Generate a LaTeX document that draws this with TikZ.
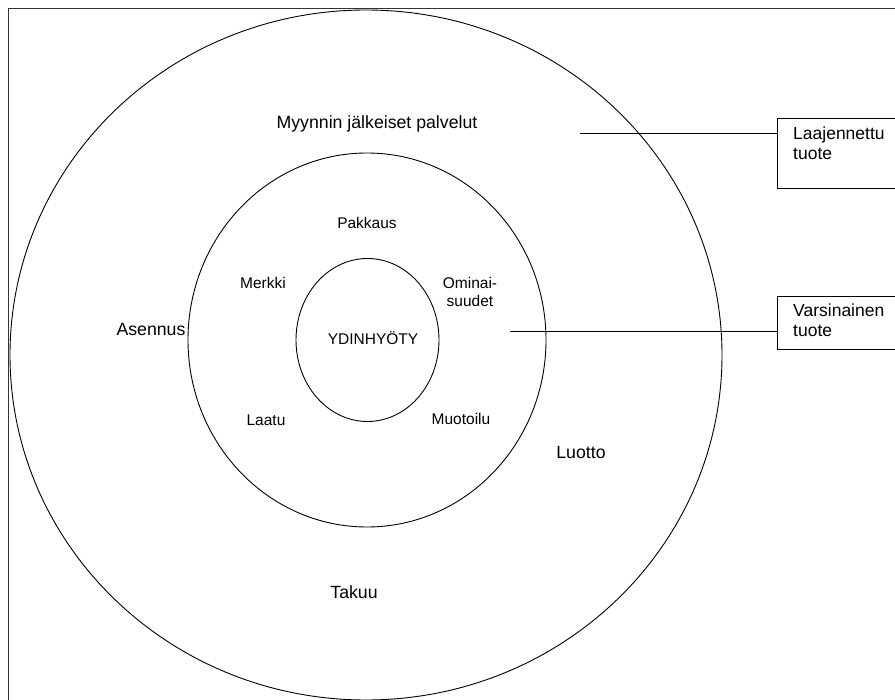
\documentclass[tikz,border=0pt]{standalone}
\usepackage{fontspec}
\usetikzlibrary{shapes.geometric}
\setmainfont{Liberation Sans}
\begin{document}
\begin{tikzpicture}[x=1pt,y=-1pt,
  ring/.style={draw=black,line width=0.9pt},
  lbl/.style={inner sep=0pt,font=\fontsize{15.5}{18}\selectfont,align=center},
  biglbl/.style={inner sep=0pt,font=\fontsize{17.7}{20}\selectfont,align=center},
  tagbox/.style={draw=black,line width=0.9pt,rectangle,inner sep=0pt,minimum width=130pt,anchor=north west},
  tagtext/.style={inner sep=0pt,anchor=north west,align=left,font=\fontsize{17.5}{19.5}\selectfont},
  link/.style={draw=black,line width=0.9pt}]
\useasboundingbox (0,0) rectangle (895,700);
% outer frame (right and bottom sides fall outside the page)
\draw[line width=1.1pt,black!80] (8.5,720) -- (8.5,8.5) -- (920,8.5);

% the three product levels
\draw[ring] (366,355) ellipse [x radius=356, y radius=345];
\draw[ring] (367,340) ellipse [x radius=179, y radius=187];
\node[ring,ellipse,minimum width=143pt,minimum height=163pt,inner sep=0pt] (core) at (367.5,340) {};
\node[lbl] (corelbl) at (373,338) {YDINHYÖTY};

% actual product attributes
\node[lbl] (pak) at (367,223) {Pakkaus};
\node[lbl] (mer) at (263,283) {Merkki};
\node[lbl] (omi) at (470,292) {Ominai-\\suudet};
\node[lbl] (laa) at (266,420) {Laatu};
\node[lbl] (muo) at (461,419) {Muotoilu};

% augmented product services
\node[biglbl] (myy) at (377,124) {Myynnin jälkeiset palvelut};
\node[biglbl] (ase) at (151,330) {Asennus};
\node[biglbl] (luo) at (581,452) {Luotto};
\node[biglbl] (tak) at (354,592) {Takuu};

% side tags
\node[tagbox,minimum height=70pt] (ltbox) at (777,118) {};
\node[tagtext] (lttext) at ([xshift=16,yshift=-9]ltbox.north west) {Laajennettu\\tuote};
\node[tagbox,minimum height=53pt] (vtbox) at (777,296) {};
\node[tagtext] (vttext) at ([xshift=16,yshift=-8]vtbox.north west) {Varsinainen\\tuote};

\coordinate (ltstart) at (580,133);
\coordinate (vtstart) at (510,331);
\draw[link] (ltstart) -- (ltstart -| ltbox.west);
\draw[link] (vtstart) -- (vtstart -| vtbox.west);
\end{tikzpicture}
\end{document}
